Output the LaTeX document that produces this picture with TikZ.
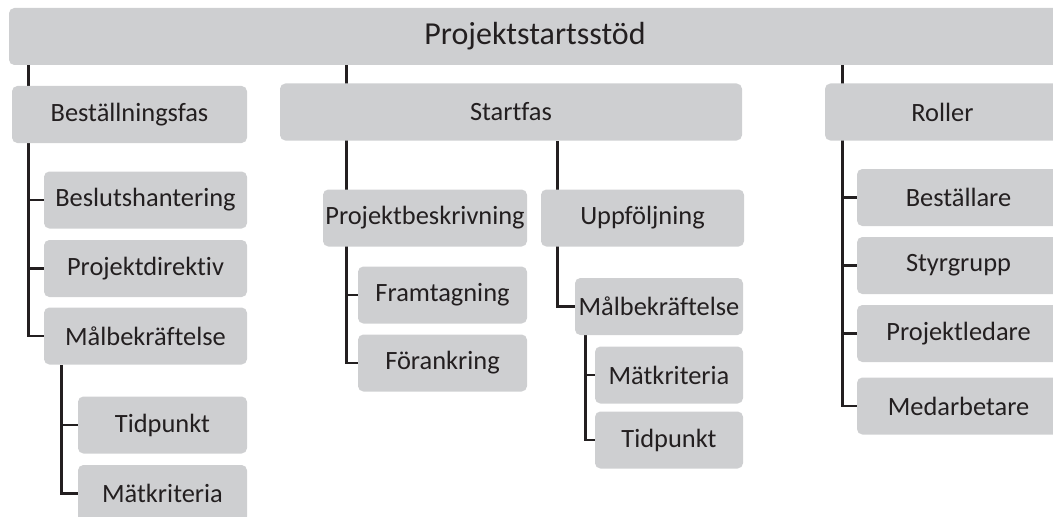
\documentclass[tikz,border=0pt]{standalone}
\usepackage{fontspec}
\setmainfont{Carlito}[Ligatures={NoCommon}]
\usepackage{xcolor}
\usepackage{tikz}
\usetikzlibrary{positioning, calc, backgrounds}
\definecolor{boxgray}{RGB}{206, 207, 209}
\definecolor{ink}{RGB}{35, 31, 32}
\tikzstyle{box} = [rectangle, rounded corners=4pt, fill=boxgray, text=ink, minimum height=42.75pt, inner sep=0pt, font=\fontsize{19.8}{22}\selectfont]
\tikzstyle{link} = [draw=ink, line width=2.2pt]

\begin{document}
\begin{tikzpicture}[x=0.75pt, y=-0.75pt]
    \useasboundingbox (0, 0) rectangle (1053, 517);
    \clip (0, 0) rectangle (1053, 517);

    % Root
    \node[box, minimum width=789pt, font=\fontsize{24}{28}\selectfont] (top) at (535, 36.5) {Projektstartsstöd};

    % Phases
    \node[box, minimum width=176.25pt] (bfas) at (129.5, 114.5) {Beställningsfas};
    \node[box, minimum width=346.5pt] (sfas) at (511, 112) {Startfas};
    \node[box, minimum width=176.25pt] (roll) at (942.5, 112) {Roller};

    % Beställningsfas
    \node[box, minimum width=152.25pt] (beslut) at (145.5, 200) {Beslutshantering};
    \node[box, minimum width=152.25pt] (direktiv) at (145.5, 268.5) {Projektdirektiv};
    \node[box, minimum width=152.25pt] (bmal) at (145.5, 336) {Målbekräftelse};
    \node[box, minimum width=126.75pt] (btid) at (162.5, 425) {Tidpunkt};
    \node[box, minimum width=126.75pt] (bmat) at (162.5, 493.5) {Mätkriteria};

    % Startfas
    \node[box, minimum width=153pt] (beskr) at (425, 218) {Projektbeskrivning};
    \node[box, minimum width=152.25pt] (uppf) at (642.5, 218) {Uppföljning};
    \node[box, minimum width=126.75pt] (fram) at (442.5, 295) {Framtagning};
    \node[box, minimum width=126.75pt] (foran) at (442.5, 363) {Förankring};
    \node[box, minimum width=126pt] (smal) at (659, 306.5) {Målbekräftelse};
    \node[box, minimum width=111pt] (smat) at (669, 375) {Mätkriteria};
    \node[box, minimum width=111pt] (stid) at (669, 440) {Tidpunkt};

    % Roller
    \node[box, minimum width=152.25pt] (best) at (958.5, 197.5) {Beställare};
    \node[box, minimum width=152.25pt] (styr) at (958.5, 265.5) {Styrgrupp};
    \node[box, minimum width=152.25pt] (pled) at (958.5, 333.5) {Projektledare};
    \node[box, minimum width=152.25pt] (medarb) at (958.5, 406) {Medarbetare};

    % Trunks
    \coordinate (btrunk) at ($(bfas.north west)+(17,-21)$);
    \coordinate (mtrunk) at ($(bmal.south west)+(18,0)$);
    \coordinate (strunk) at ($(sfas.north west)+(67,-18)$);
    \coordinate (utrunk) at ($(uppf.north west)+(17,0)$);
    \coordinate (ktrunk) at ($(smal.south west)+(11,0)$);
    \coordinate (rtrunk) at ($(roll.north west)+(18,-18)$);

    % Connectors
    \begin{scope}[on background layer]
        \draw[link] (btrunk) |- (bmal.west);
        \draw[link] (beslut.west) -- (beslut.west -| btrunk);
        \draw[link] (direktiv.west) -- (direktiv.west -| btrunk);
        \draw[link] (mtrunk) |- (bmat.west);
        \draw[link] (btid.west) -- (btid.west -| mtrunk);

        \draw[link] (strunk) |- (foran.west);
        \draw[link] (fram.west) -- (fram.west -| strunk);
        \draw[link] (sfas.south -| utrunk) |- (smal.west);
        \draw[link] (ktrunk) |- (stid.west);
        \draw[link] (smat.west) -- (smat.west -| ktrunk);

        \draw[link] (rtrunk) |- (medarb.west);
        \draw[link] (best.west) -- (best.west -| rtrunk);
        \draw[link] (styr.west) -- (styr.west -| rtrunk);
        \draw[link] (pled.west) -- (pled.west -| rtrunk);
    \end{scope}
\end{tikzpicture}
\end{document}
